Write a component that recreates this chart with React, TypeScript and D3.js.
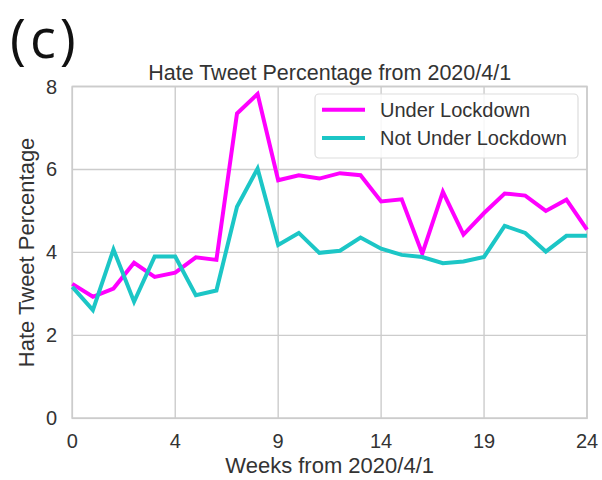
import React from "react";
import * as d3 from "d3";

// Weekly hate-tweet percentage, 26 samples spread over weeks 0..24
const underLockdown = [
  3.24, 2.93, 3.13, 3.75, 3.41, 3.51, 3.88, 3.82, 7.35, 7.82,
  5.74, 5.86, 5.78, 5.91, 5.86, 5.23, 5.28, 3.97, 5.46, 4.43,
  4.95, 5.42, 5.37, 5.0, 5.27, 4.55,
];
const notUnderLockdown = [
  3.17, 2.61, 4.07, 2.81, 3.9, 3.9, 2.97, 3.08, 5.1, 6.02,
  4.18, 4.47, 3.99, 4.04, 4.36, 4.09, 3.94, 3.89, 3.74, 3.78,
  3.89, 4.64, 4.47, 4.02, 4.4, 4.4,
];
const xTickLabels = ["0", "4", "9", "14", "19", "24"];
const yTicks = [0, 2, 4, 6, 8];
const seriesNames = ["Under Lockdown", "Not Under Lockdown"];
const seriesColors = ["#ff00ff", "#1cc6c6"];

const W = 602;
const H = 480;
const plot = { left: 72.3, right: 587, top: 86.5, bottom: 418.3 };
const FONT = "'Liberation Sans', Arial, sans-serif";
const TEXT = "#333333";
const GRID = "#cccccc";

export default function App() {
  const xMax = 24;
  const x = d3.scaleLinear().domain([0, xMax]).range([plot.left, plot.right]);
  const y = d3.scaleLinear().domain([0, 8]).range([plot.bottom, plot.top]);

  const n = underLockdown.length;
  const xs = d3.range(n).map((i) => (i * xMax) / (n - 1));
  const xTickPos = d3.range(xTickLabels.length).map(
    (i) => (i * xMax) / (xTickLabels.length - 1)
  );

  const line = d3
    .line<number>()
    .x((_, i) => x(xs[i]))
    .y((d) => y(d));

  const series = [underLockdown, notUnderLockdown];
  const cx = (plot.left + plot.right) / 2;
  const cy = (plot.top + plot.bottom) / 2;

  const legend = { x: 315, y: 94, w: 263, h: 64 };

  return (
    <svg
      width={W}
      height={H}
      style={{ position: "absolute", left: 0, top: 0, background: "#fff" }}
    >
      <rect x={0} y={0} width={W} height={H} fill="#fff" />

      {/* panel label */}
      <text
        x={10}
        y={58}
        fontFamily="'Open Sans', 'Noto Sans', sans-serif"
        fontSize={54}
        letterSpacing={4}
        fill="#111"
      >
        (c)
      </text>

      {/* grid */}
      {xTickPos.map((t, i) => (
        <line
          key={"gx" + i}
          x1={x(t)}
          x2={x(t)}
          y1={plot.top}
          y2={plot.bottom}
          stroke={GRID}
          strokeWidth={1.4}
        />
      ))}
      {yTicks.map((t) => (
        <line
          key={"gy" + t}
          x1={plot.left}
          x2={plot.right}
          y1={y(t)}
          y2={y(t)}
          stroke={GRID}
          strokeWidth={1.4}
        />
      ))}
      <rect
        x={plot.left}
        y={plot.top}
        width={plot.right - plot.left}
        height={plot.bottom - plot.top}
        fill="none"
        stroke={GRID}
        strokeWidth={1.6}
      />

      {/* series */}
      {series.map((s, i) => (
        <path
          key={"s" + i}
          d={line(s) || ""}
          fill="none"
          stroke={seriesColors[i]}
          strokeWidth={4}
          strokeLinejoin="miter"
          strokeLinecap="butt"
        />
      ))}

      {/* tick labels */}
      {xTickPos.map((t, i) => (
        <text
          key={"tx" + i}
          x={x(t)}
          y={448}
          textAnchor="middle"
          fontFamily={FONT}
          fontSize={20}
          fill={TEXT}
        >
          {xTickLabels[i]}
        </text>
      ))}
      {yTicks.map((t) => (
        <text
          key={"ty" + t}
          x={57}
          y={y(t) + 7}
          textAnchor="end"
          fontFamily={FONT}
          fontSize={20}
          fill={TEXT}
        >
          {t}
        </text>
      ))}

      {/* titles */}
      <text
        x={cx}
        y={80}
        textAnchor="middle"
        fontFamily={FONT}
        fontSize={21.5}
        fill={TEXT}
      >
        Hate Tweet Percentage from 2020/4/1
      </text>
      <text
        x={cx}
        y={473}
        textAnchor="middle"
        fontFamily={FONT}
        fontSize={22}
        fill={TEXT}
      >
        Weeks from 2020/4/1
      </text>
      <text
        transform={`translate(34,${cy}) rotate(-90)`}
        textAnchor="middle"
        fontFamily={FONT}
        fontSize={22}
        fill={TEXT}
      >
        Hate Tweet Percentage
      </text>

      {/* legend */}
      <rect
        x={legend.x}
        y={legend.y}
        width={legend.w}
        height={legend.h}
        rx={4}
        fill="#fff"
        fillOpacity={0.85}
        stroke="#dddddd"
        strokeWidth={1.2}
      />
      {seriesNames.map((name, i) => {
        const ly = 109.7 + i * 28.3;
        return (
          <g key={"lg" + i}>
            <line
              x1={322}
              x2={365}
              y1={ly}
              y2={ly}
              stroke={seriesColors[i]}
              strokeWidth={4}
            />
            <text
              x={380}
              y={ly + 7}
              fontFamily={FONT}
              fontSize={20}
              fill={TEXT}
            >
              {name}
            </text>
          </g>
        );
      })}
    </svg>
  );
}
